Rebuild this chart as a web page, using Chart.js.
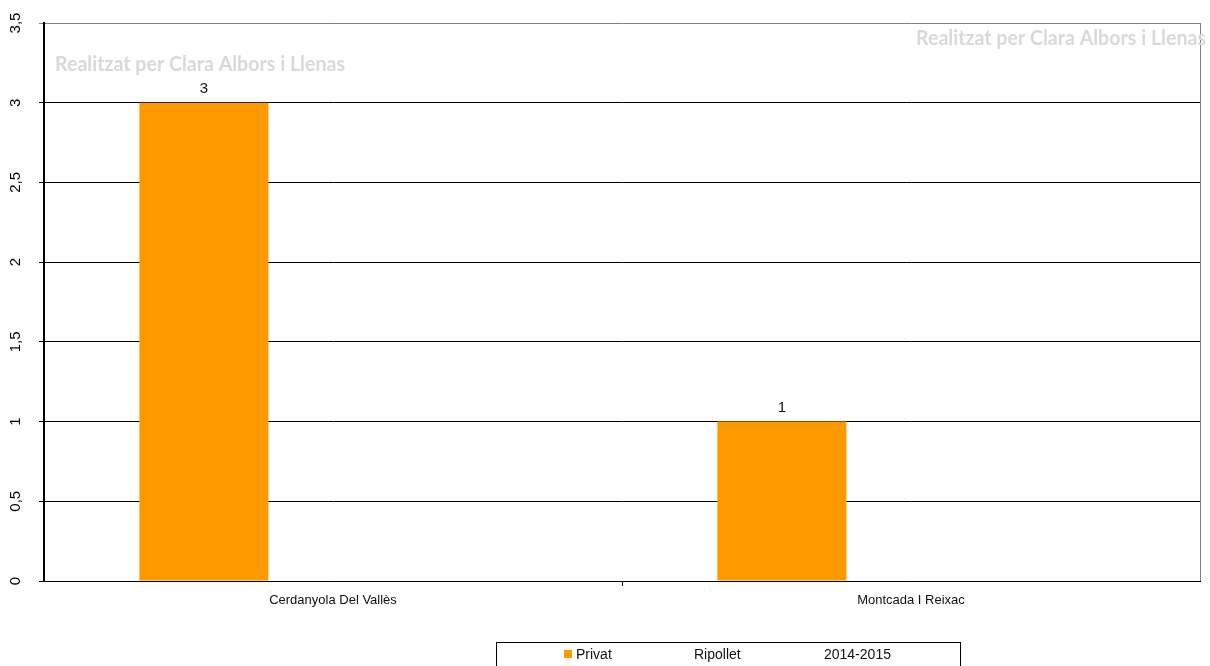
<!DOCTYPE html>
<html>
<head>
<meta charset="utf-8">
<script src="https://cdn.jsdelivr.net/npm/chart.js@4"></script>
<style>
  html, body { margin: 0; padding: 0; background: #fff; }
  #wrap { width: 1210px; height: 666px; position: relative; }
</style>
</head>
<body>
<div id="wrap"><canvas id="chart"></canvas></div>
<script>
const categories = ['Cerdanyola Del Vallès', 'Montcada I Reixac'];
const seriesNames = ['Privat', 'Ripollet', '2014-2015'];
const privatValues = [3, 1];
const ripolletValues = [null, null];
const yearValues = [null, null];
const yTicks = [0, 0.5, 1, 1.5, 2, 2.5, 3, 3.5];
const watermark = 'Realitzat per Clara Albors i Llenas';

function fmt(v) {
    return String(v).replace('.', ',');
}

const extras = {
    id: 'extras',
    afterDraw(chart) {
        const ctx = chart.ctx;
        const area = chart.chartArea;
        const y = chart.scales.y;
        ctx.save();

        // frame right side
        ctx.strokeStyle = '#808080';
        ctx.lineWidth = 1;
        ctx.beginPath();
        ctx.moveTo(Math.round(area.right) + 0.5, area.top);
        ctx.lineTo(Math.round(area.right) + 0.5, area.bottom);
        ctx.stroke();

        // rotated y tick labels
        ctx.fillStyle = '#000';
        ctx.font = '15px "Liberation Sans", Arial, sans-serif';
        ctx.textAlign = 'center';
        ctx.textBaseline = 'middle';
        yTicks.forEach(v => {
            const py = y.getPixelForValue(v);
            ctx.save();
            ctx.translate(16, py);
            ctx.rotate(-Math.PI / 2);
            ctx.fillText(fmt(v), 0, 0);
            ctx.restore();
        });

        // value labels
        const meta = chart.getDatasetMeta(0);
        ctx.font = '15px "Liberation Sans", Arial, sans-serif';
        ctx.fillStyle = '#111';
        ctx.textBaseline = 'middle';
        meta.data.forEach((bar, i) => {
            const v = chart.data.datasets[0].data[i];
            if (v == null) return;
            ctx.fillText(fmt(v), bar.x, bar.y - 14);
        });

        // watermarks
        ctx.fillStyle = '#d9d9d9';
        ctx.font = 'bold 20px Lato, sans-serif';
        ctx.textAlign = 'left';
        ctx.fillText(watermark, 55, 65, 290);
        ctx.fillText(watermark, 916, 39, 290);

        // legend
        ctx.strokeStyle = '#000';
        ctx.strokeRect(496.5, 642.5, 464, 40);
        const legendX = [576, 694, 824];
        ctx.fillStyle = '#FF9900';
        ctx.fillRect(564, 650, 8, 8);
        ctx.fillStyle = '#111';
        ctx.font = '14px "Liberation Sans", Arial, sans-serif';
        ctx.textBaseline = 'middle';
        seriesNames.forEach((name, i) => {
            ctx.fillText(name, legendX[i], 655);
        });

        ctx.restore();
    }
};

const ctx = document.getElementById('chart').getContext('2d');
new Chart(ctx, {
    type: 'bar',
    data: {
        labels: categories,
        datasets: [
            { label: seriesNames[0], data: privatValues, backgroundColor: '#FF9900' },
            { label: seriesNames[1], data: ripolletValues, backgroundColor: 'rgba(0,0,0,0)' },
            { label: seriesNames[2], data: yearValues, backgroundColor: 'rgba(0,0,0,0)' }
        ]
    },
    options: {
        responsive: true,
        maintainAspectRatio: false,
        animation: false,
        categoryPercentage: 0.67,
        barPercentage: 1,
        layout: { padding: { top: 23, right: 10, left: 0, bottom: 0 } },
        plugins: {
            legend: { display: false },
            tooltip: { enabled: false }
        },
        scales: {
            x: {
                afterFit: s => { s.height = 85; },
                grid: {
                    offset: true,
                    drawOnChartArea: false,
                    drawTicks: true,
                    tickLength: 5,
                    color: c => (c.index === 1 ? '#000' : 'rgba(0,0,0,0)')
                },
                border: { color: '#000', width: 1 },
                ticks: {
                    color: '#111',
                    padding: 7,
                    font: { family: '"Liberation Sans", Arial, sans-serif', size: 13 }
                }
            },
            y: {
                min: 0,
                max: 3.5,
                afterFit: s => { s.width = 44; },
                ticks: { stepSize: 0.5, display: false },
                grid: {
                    color: c => (c.tick && c.tick.value === 3.5 ? '#808080' : '#000'),
                    tickLength: 5,
                    drawTicks: true
                },
                border: { color: '#000', width: 2 }
            }
        }
    },
    plugins: [extras]
});
</script>
</body>
</html>
